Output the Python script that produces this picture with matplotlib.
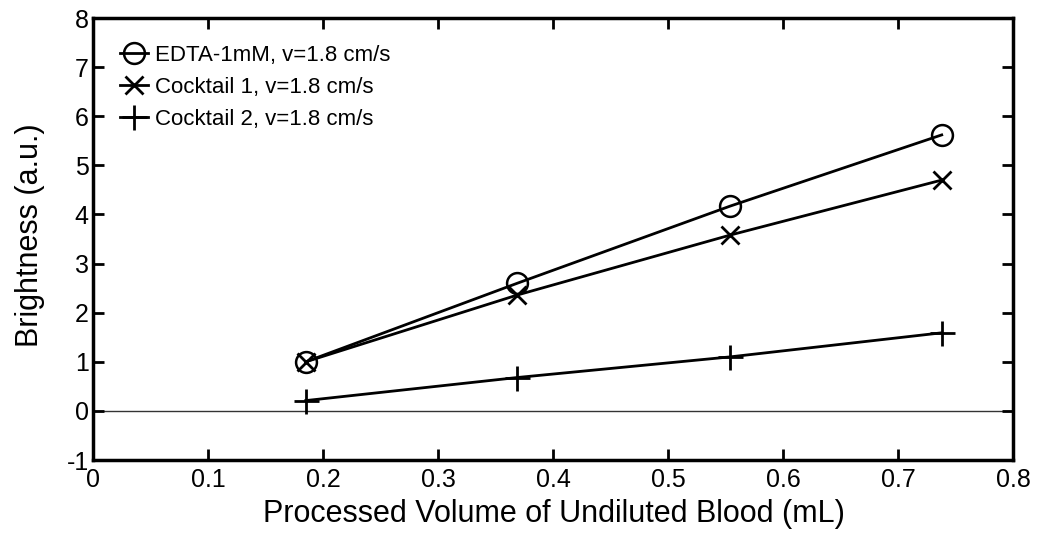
import matplotlib
matplotlib.use("Agg")
import matplotlib.pyplot as plt

plt.rcParams['font.family'] = ['Liberation Sans', 'DejaVu Sans']
plt.rcParams['axes.unicode_minus'] = False

volume = [0.185, 0.369, 0.554, 0.738]
edta = [1.0, 2.60, 4.17, 5.62]
cocktail1 = [1.0, 2.36, 3.58, 4.70]
cocktail2 = [0.21, 0.68, 1.10, 1.59]

labels = ['EDTA-1mM, v=1.8 cm/s', 'Cocktail 1, v=1.8 cm/s', 'Cocktail 2, v=1.8 cm/s']

fig = plt.figure(figsize=(10.39, 5.41), dpi=100)
ax = fig.add_axes([0.0895, 0.1497, 0.8855, 0.817])

ax.axhline(0, color='#333333', lw=1.0, zorder=1)
ax.plot(volume, edta, color='black', lw=2, marker='o', ms=15, mfc='none', mew=1.8, label=labels[0])
ax.plot(volume, cocktail1, color='black', lw=2, marker='x', ms=13, mew=2, label=labels[1])
ax.plot(volume, cocktail2, color='black', lw=2, marker='+', ms=18, mew=2, label=labels[2])

ax.set_xlim(0, 0.8)
ax.set_ylim(-1, 8)
ax.set_xticks([0, 0.1, 0.2, 0.3, 0.4, 0.5, 0.6, 0.7, 0.8])
ax.set_xticklabels(['0', '0.1', '0.2', '0.3', '0.4', '0.5', '0.6', '0.7', '0.8'])
ax.set_yticks(range(-1, 9))
ax.tick_params(direction='in', length=8, width=2, labelsize=18, top=True, right=True, pad=3)
ax.tick_params(axis='x', pad=6)
for s in ax.spines.values():
    s.set_linewidth(2.5)

ax.set_xlabel('Processed Volume of Undiluted Blood (mL)', fontsize=22, va='center')
ax.xaxis.set_label_coords(0.501, -0.122)
ax.set_ylabel('Brightness (a.u.)', fontsize=22, va='center')
ax.yaxis.set_label_coords(-0.068, 0.509)

ax.legend(loc='upper left', frameon=False, fontsize=16, handlelength=1.3,
          handletextpad=0.3, labelspacing=0.5, borderaxespad=0.3,
          bbox_to_anchor=(0.012, 0.975))

fig.savefig('out.png', dpi=100)
